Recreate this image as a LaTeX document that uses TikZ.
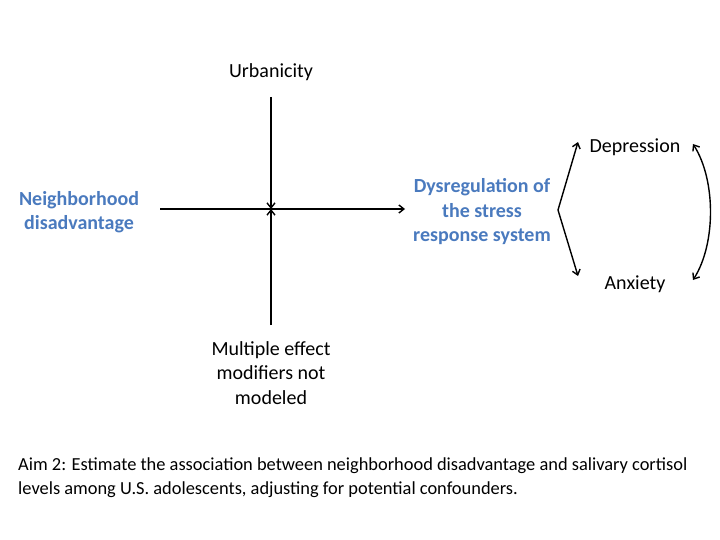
\documentclass[tikz,border=0pt]{standalone}
\usepackage{fontspec}
\setmainfont{Carlito}
\usetikzlibrary{arrows.meta}
\definecolor{aimblue}{RGB}{74,122,190}
\tikzset{%
  x=1pt, y=-1pt,
  every edge/.style={   
    draw,
    ->,
    >={Straight Barb[length=5pt,width=8pt]},
    line width=1.4pt},
  term/.style={font=\fontsize{20}{24.5}\selectfont, align=center, inner sep=0pt},
  keyterm/.style={term, font=\fontsize{20}{24.5}\selectfont\bfseries, text=aimblue}
}
\begin{document}
\begin{tikzpicture}
    \useasboundingbox (0,0) rectangle (720,540);

    \node[keyterm] (ND) at (79,212) {Neighborhood\\disadvantage};
    \node[keyterm] (DS) at (482,212) {Dysregulation of\\the stress\\response system};
    \node[term] (UR) at (271,72) {Urbanicity};
    \node[term] (EM) at (271,373) {Multiple effect\\modifiers not\\modeled};
    \node[term] (DP) at (635,147) {Depression};
    \node[term] (AX) at (635,284) {Anxiety};
    \node[font=\fontsize{18.4}{23.5}\selectfont, align=left, anchor=north west, inner sep=0pt]
      (AIM) at (18,458) {Aim 2: Estimate the association between neighborhood disadvantage and salivary cortisol\\levels among U.S. adolescents, adjusting for potential confounders.};

    \coordinate (NDr) at (160,209);
    \coordinate (DSl) at (405,209);
    \coordinate (HUB) at (271,209);
    \coordinate (URb) at (271,97);
    \coordinate (EMt) at (271,325);
    \coordinate (FORK) at (558,210);
    \coordinate (DPl) at (578,142);
    \coordinate (AXl) at (578,276);
    \coordinate (DPr) at (693,144);
    \coordinate (AXr) at (693,280);

    \draw
      (NDr) edge (DSl)
      (URb) edge (HUB)
      (EMt) edge (HUB)
      (FORK) edge (DPl)
      (FORK) edge (AXl)
    ;
    \draw[line width=1.4pt, {Straight Barb[length=5pt,width=8pt]}-{Straight Barb[length=5pt,width=8pt]}]
      (DPr) .. controls (716,180) and (716,244) .. (AXr);

\end{tikzpicture}
\end{document}
